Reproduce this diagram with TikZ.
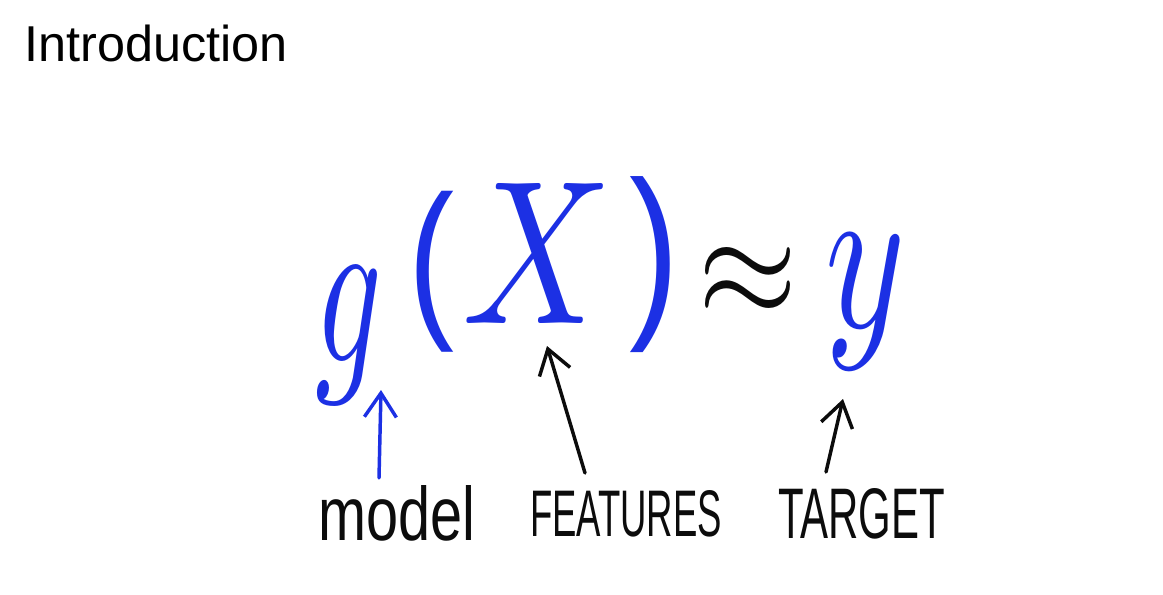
\documentclass[tikz,border=0pt]{standalone}
\usepackage{fontspec}
\setmainfont{Liberation Sans}
\usepackage{graphicx}
\usetikzlibrary{arrows.meta}

% one screen pixel of the slide
\newdimen\pxu \pxu=0.75pt
\definecolor{inkblue}{RGB}{28,48,228}
\definecolor{inkblack}{RGB}{12,12,12}

% box of given width and total height (in pixels) around a glyph
\newcommand\fitglyph[3]{\resizebox*{#1\pxu}{#2\pxu}{#3}}
% box of given width and height above baseline (in pixels) around a word
\newcommand\fitword[3]{\resizebox{#1\pxu}{#2\pxu}{#3}}

\begin{document}
\begin{tikzpicture}[x=0.75pt,y=-0.75pt,
  glyph/.style={inner sep=0pt, outer sep=0pt},
  word/.style={inner sep=0pt, outer sep=0pt, anchor=base west, text=inkblack},
  pointer/.style={line width=2.6pt, line cap=round, line join=round,
    -{Straight Barb[length=18pt,width=24pt,line width=2.6pt]}},
]
\useasboundingbox (0,0) rectangle (1163,595);
\fill[white] (0,0) rectangle (1163,595);

% slide heading
\node[anchor=base west, inner sep=0pt, font=\fontsize{37.8}{45}\selectfont] (title) at (24,62) {Introduction};

% the formula g(X) ~ y
\node[glyph, text=inkblue] (g)  at (349,336) {\fitglyph{67}{137}{$g$}};
\node[glyph, text=inkblue] (lp) at (432,272) {\fitglyph{46}{161}{(}};
\node[glyph, text=inkblue] (X)  at (538,253) {\fitglyph{150}{140}{$X$}};
\node[glyph, text=inkblue] (rp) at (655,265) {\fitglyph{50}{176}{)}};
\node[glyph, text=inkblack] (approx) at (748,282) {\fitglyph{99}{69}{$\approx$}};
\node[glyph, text=inkblue] (y)  at (866,302) {\fitglyph{80}{135}{$y$}};

% labels under the formula
\node[word] (model)    at (318,540) {\fitword{157}{55}{model}};
\node[word] (features) at (530,536) {\fitword{192}{46}{FEATURES}};
\node[word] (target)   at (778,538) {\fitword{167}{50}{TARGET}};

% arrows from the labels up to the formula
\coordinate (gfoot) at (379,478);
\coordinate (gtip)  at (381,390);
\coordinate (xfoot) at (585,473);
\coordinate (xtip)  at (547,346);
\coordinate (yfoot) at (826,472);
\coordinate (ytip)  at (843,399);

\draw[pointer, inkblue]  (gfoot) -- (gtip);
\draw[pointer, inkblack] (xfoot) -- (xtip);
\draw[pointer, inkblack] (yfoot) -- (ytip);
\end{tikzpicture}
\end{document}
